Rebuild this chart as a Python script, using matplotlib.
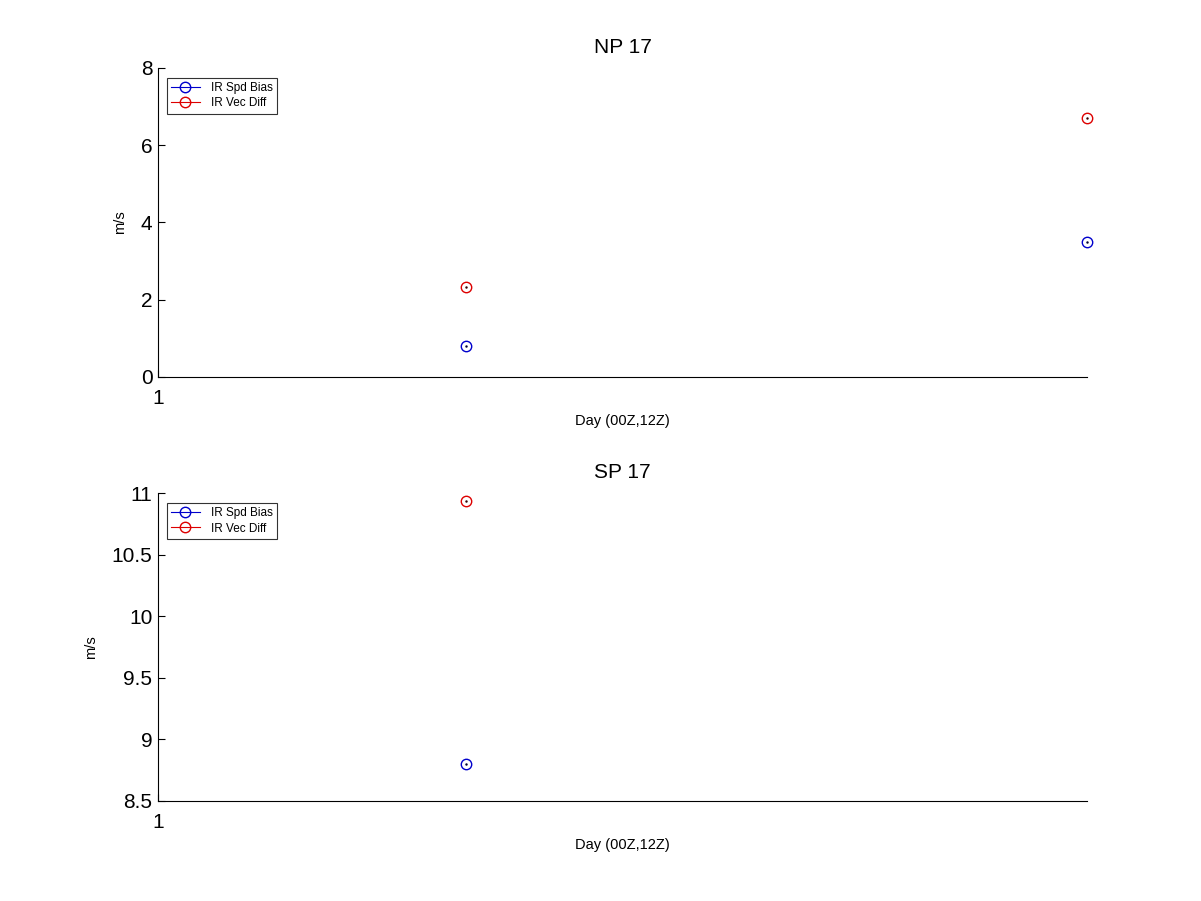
import numpy as np
import matplotlib.pyplot as plt

plt.rcParams['font.family'] = ['Liberation Sans', 'DejaVu Sans']

# values
x_np = [1.3315, 2.0]
spd_np = [0.80, 3.50]
vec_np = [2.33, 6.71]

x_sp = [1.3315]
spd_sp = [8.80]
vec_sp = [10.935]

titles = ['NP 17', 'SP 17']
ylims = [(0, 8), (8.5, 11)]
yticks = [[0, 2, 4, 6, 8], [8.5, 9, 9.5, 10, 10.5, 11]]
yticklabels = [['0', '2', '4', '6', '8'], ['8.5', '9', '9.5', '10', '10.5', '11']]


def PlotPanel(ax, x, spd, vec, titre, ylim, yt, ytl):
    #
    ax.plot(x, spd, color='#0000cc', marker='o', markersize=7.5, markerfacecolor='none',
            linestyle='none', markeredgewidth=1.0, label='IR Spd Bias', clip_on=False)
    ax.plot(x, vec, color='#dd0000', marker='o', markersize=7.5, markerfacecolor='none',
            linestyle='none', markeredgewidth=1.0, label='IR Vec Diff', clip_on=False)
    # small centre dots
    ax.plot(x, spd, linestyle='none', marker='.', markersize=1.5, color='#000033', clip_on=False)
    ax.plot(x, vec, linestyle='none', marker='.', markersize=1.5, color='#330000', clip_on=False)
    #
    ax.set_xlim(1, 2)
    ax.set_ylim(*ylim)
    ax.set_xticks([1])
    ax.set_xticklabels(['1'], fontsize=15)
    ax.set_yticks(yt)
    ax.set_yticklabels(ytl, fontsize=15)
    ax.tick_params(direction='in', length=5, width=0.8, pad=4)
    ax.tick_params(axis='x', pad=9)
    for s in ['top', 'right']:
        ax.spines[s].set_visible(False)
    ax.set_title(titre, fontsize=15, pad=11)
    ax.set_xlabel('Day (00Z,12Z)', fontsize=10.5, labelpad=4)
    ax.set_ylabel('m/s', fontsize=10.5, labelpad=10)
    #
    leg = ax.legend(loc='upper left', bbox_to_anchor=(0.0097, 0.968), fontsize=8.5,
                    frameon=True, fancybox=False, edgecolor='black', handlelength=2.4,
                    borderpad=0.35, labelspacing=0.3, handletextpad=1.0, borderaxespad=0)
    leg.get_frame().set_linewidth(0.8)
    for h in leg.legend_handles:
        h.set_linestyle('-')
        h.set_linewidth(0.8)


fig = plt.figure(figsize=(12.01, 9.01), dpi=100)
ax1 = fig.add_axes([0.1316, 0.5816, 0.7735, 0.343])
ax2 = fig.add_axes([0.1316, 0.111, 0.7735, 0.3418])

PlotPanel(ax1, x_np, spd_np, vec_np, titles[0], ylims[0], yticks[0], yticklabels[0])
PlotPanel(ax2, x_sp, spd_sp, vec_sp, titles[1], ylims[1], yticks[1], yticklabels[1])

fig.savefig('out.png', dpi=100)
